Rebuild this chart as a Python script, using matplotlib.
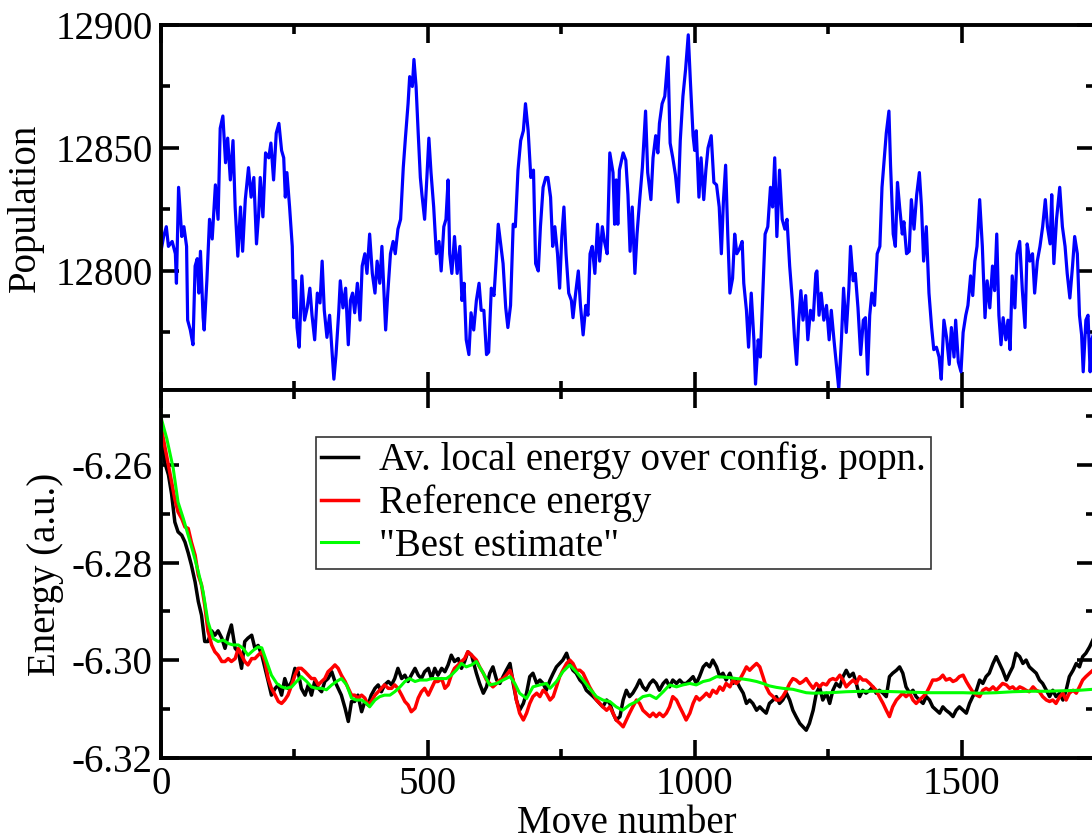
import numpy as np
import matplotlib
matplotlib.use('Agg')
import matplotlib.pyplot as plt
from matplotlib.ticker import MultipleLocator, FormatStrFormatter

plt.rcParams['font.family'] = ['Liberation Serif', 'DejaVu Serif']
plt.rcParams['axes.unicode_minus'] = False

# population trace (move number, walkers)
pop_move = [0, 5, 10, 14, 21, 27, 29, 33, 39, 43, 48, 50, 55, 60, 64, 68, 71, 74, 79, 81, 86, 91, 96, 102, 107,
            111, 116, 121, 125, 130, 135, 139, 144, 149, 153, 158, 164, 169, 174, 179, 183, 186, 191, 196, 202,
            206, 211, 216, 221, 226, 230, 233, 236, 241, 246, 249, 252, 255, 259, 264, 269, 274, 279, 283, 288,
            293, 298, 302, 306, 311, 316, 319, 324, 328, 333, 336, 341, 346, 351, 355, 359, 363, 368, 373, 377,
            382, 386, 391, 396, 401, 405, 410, 414, 421, 425, 430, 435, 439, 444, 449, 454, 458, 463, 466, 471,
            474, 478, 482, 486, 489, 494, 498, 502, 506, 511, 516, 521, 525, 530, 534, 538, 541, 545, 550, 555,
            560, 564, 568, 572, 577, 581, 586, 591, 596, 600, 605, 610, 614, 619, 624, 628, 632, 636, 641, 646,
            650, 655, 660, 664, 669, 674, 679, 683, 688, 693, 698, 702, 707, 711, 716, 721, 725, 730, 734, 738,
            743, 747, 751, 755, 759, 764, 769, 772, 777, 782, 786, 791, 796, 800, 804, 808, 813, 818, 822, 827,
            831, 836, 841, 847, 850, 853, 856, 859, 866, 871, 875, 879, 883, 888, 892, 897, 902, 908, 912, 918,
            922, 927, 931, 934, 939, 944, 950, 954, 959, 964, 969, 973, 978, 983, 988, 992, 997, 1000, 1003, 1008,
            1012, 1017, 1021, 1025, 1031, 1036, 1041, 1046, 1050, 1054, 1058, 1062, 1066, 1071, 1075, 1079, 1084,
            1089, 1092, 1097, 1101, 1106, 1111, 1114, 1119, 1123, 1128, 1132, 1137, 1142, 1146, 1150, 1154, 1159,
            1164, 1169, 1173, 1178, 1183, 1187, 1191, 1195, 1199, 1203, 1208, 1212, 1217, 1222, 1227, 1229, 1233,
            1237, 1242, 1247, 1252, 1256, 1261, 1266, 1270, 1275, 1279, 1284, 1289, 1292, 1297, 1301, 1306, 1311,
            1316, 1320, 1324, 1328, 1332, 1337, 1342, 1347, 1351, 1356, 1359, 1364, 1367, 1372, 1376, 1380, 1384,
            1389, 1392, 1397, 1402, 1406, 1411, 1416, 1421, 1425, 1429, 1434, 1439, 1444, 1448, 1453, 1458, 1462,
            1467, 1472, 1477, 1481, 1486, 1489, 1494, 1499, 1503, 1508, 1512, 1517, 1521, 1525, 1529, 1534, 1539,
            1544, 1548, 1553, 1558, 1562, 1566, 1570, 1574, 1578, 1583, 1587, 1591, 1595, 1600, 1604, 1609, 1614,
            1619, 1623, 1628, 1633, 1637, 1642, 1647, 1652, 1657, 1661, 1666, 1669, 1673, 1678, 1684, 1689, 1694,
            1698, 1703, 1708, 1712, 1717, 1721, 1725, 1728, 1733, 1737, 1741, 1744, 1748]
population = [12808, 12814, 12818, 12810, 12812, 12807, 12795, 12834, 12814, 12818, 12810, 12780, 12776, 12770,
              12802, 12805, 12791, 12808, 12781, 12776, 12796, 12821, 12813, 12835, 12821, 12858, 12863, 12844,
              12854, 12837, 12853, 12826, 12806, 12826, 12808, 12829, 12842, 12830, 12838, 12811, 12823, 12838,
              12822, 12848, 12846, 12852, 12837, 12856, 12860, 12849, 12846, 12830, 12840, 12826, 12810, 12781,
              12796, 12777, 12769, 12798, 12780, 12785, 12793, 12782, 12772, 12791, 12787, 12804, 12784, 12773,
              12782, 12772, 12756, 12766, 12783, 12796, 12785, 12793, 12770, 12788, 12791, 12783, 12795, 12780,
              12802, 12807, 12799, 12815, 12799, 12791, 12804, 12795, 12810, 12776, 12791, 12807, 12812, 12807,
              12817, 12821, 12842, 12854, 12868, 12879, 12875, 12886, 12875, 12856, 12838, 12831, 12821, 12837,
              12854, 12840, 12826, 12807, 12812, 12800, 12818, 12821, 12837, 12807, 12799, 12814, 12799, 12810,
              12788, 12795, 12772, 12766, 12783, 12776, 12788, 12795, 12784, 12784, 12766, 12767, 12793, 12790,
              12804, 12819, 12812, 12803, 12785, 12777, 12786, 12819, 12818, 12841, 12853, 12857, 12868, 12857,
              12838, 12841, 12803, 12800, 12818, 12834, 12838, 12838, 12830, 12810, 12818, 12807, 12793, 12814,
              12826, 12807, 12791, 12788, 12781, 12791, 12800, 12786, 12774, 12786, 12782, 12807, 12810, 12799,
              12819, 12804, 12818, 12812, 12807, 12848, 12840, 12819, 12837, 12819, 12841, 12848, 12845, 12831,
              12808, 12826, 12799, 12815, 12829, 12842, 12865, 12840, 12829, 12846, 12855, 12848, 12860, 12868,
              12871, 12887, 12852, 12846, 12839, 12828, 12853, 12871, 12882, 12896, 12877, 12855, 12849, 12857,
              12830, 12846, 12829, 12841, 12850, 12855, 12836, 12835, 12826, 12807, 12829, 12843, 12815, 12791,
              12797, 12815, 12807, 12809, 12812, 12795, 12784, 12769, 12791, 12772, 12754, 12772, 12765, 12793,
              12815, 12818, 12834, 12826, 12846, 12814, 12841, 12821, 12817, 12821, 12802, 12788, 12773, 12762,
              12780, 12792, 12780, 12790, 12772, 12784, 12780, 12799, 12800, 12782, 12791, 12780, 12786, 12772,
              12784, 12772, 12761, 12752, 12772, 12793, 12775, 12793, 12810, 12796, 12799, 12785, 12766, 12780,
              12781, 12758, 12782, 12791, 12786, 12807, 12810, 12834, 12848, 12856, 12865, 12843, 12815, 12810,
              12836, 12826, 12815, 12820, 12807, 12808, 12829, 12817, 12831, 12840, 12826, 12804, 12818, 12791,
              12777, 12768, 12769, 12765, 12756, 12780, 12773, 12762, 12777, 12765, 12780, 12763, 12759, 12775,
              12782, 12786, 12798, 12790, 12804, 12810, 12829, 12810, 12781, 12796, 12785, 12802, 12792, 12815,
              12782, 12770, 12781, 12772, 12780, 12768, 12798, 12785, 12807, 12812, 12792, 12777, 12811, 12804,
              12807, 12791, 12804, 12810, 12818, 12829, 12818, 12811, 12831, 12803, 12821, 12834, 12818, 12810,
              12799, 12789, 12802, 12814, 12807, 12782, 12774, 12759, 12780, 12782, 12759, 12772, 12775]

# average local energy over the configuration population
local_move = [0, 7, 14, 20, 26, 32, 39, 45, 51, 57, 64, 70, 76, 82, 88, 95, 101, 107, 114, 120, 126, 132, 139,
              145, 151, 157, 163, 170, 176, 182, 189, 195, 201, 207, 214, 220, 226, 232, 238, 245, 251, 257, 263,
              270, 276, 282, 288, 295, 301, 307, 313, 320, 326, 332, 338, 345, 351, 357, 363, 369, 376, 382, 388,
              394, 401, 407, 413, 419, 426, 432, 438, 444, 451, 457, 463, 469, 476, 482, 488, 494, 501, 507, 513,
              519, 526, 532, 538, 544, 550, 557, 563, 569, 575, 582, 591, 597, 604, 610, 616, 622, 629, 635, 641,
              647, 654, 660, 666, 672, 679, 685, 691, 697, 704, 710, 716, 722, 729, 735, 741, 747, 753, 760, 766,
              772, 778, 785, 791, 797, 803, 810, 816, 822, 828, 835, 841, 847, 853, 860, 866, 872, 878, 884, 891,
              897, 903, 909, 916, 922, 928, 934, 941, 947, 953, 959, 966, 972, 978, 984, 991, 997, 1003, 1009,
              1016, 1022, 1028, 1034, 1041, 1047, 1053, 1059, 1066, 1072, 1078, 1084, 1091, 1097, 1103, 1109,
              1116, 1122, 1128, 1134, 1140, 1147, 1153, 1159, 1165, 1172, 1178, 1184, 1190, 1197, 1203, 1209,
              1215, 1222, 1228, 1234, 1240, 1247, 1253, 1259, 1265, 1272, 1278, 1284, 1290, 1297, 1303, 1309,
              1315, 1321, 1328, 1334, 1340, 1346, 1353, 1359, 1365, 1371, 1378, 1384, 1390, 1396, 1403, 1409,
              1415, 1421, 1428, 1434, 1440, 1446, 1453, 1459, 1465, 1471, 1478, 1484, 1490, 1496, 1503, 1509,
              1515, 1521, 1528, 1534, 1540, 1546, 1552, 1559, 1565, 1571, 1577, 1584, 1590, 1596, 1602, 1609,
              1615, 1621, 1627, 1634, 1640, 1646, 1652, 1659, 1665, 1671, 1677, 1684, 1690, 1696, 1702, 1709,
              1715, 1721, 1727, 1733, 1740, 1746]
local_energy = [-6.2520, -6.2594, -6.2620, -6.2660, -6.2717, -6.2737, -6.2744, -6.2758, -6.2780, -6.2805, -6.2840,
                -6.2880, -6.2908, -6.2962, -6.2962, -6.2940, -6.2949, -6.2940, -6.2955, -6.2976, -6.2949, -6.2928,
                -6.2976, -6.2983, -6.3017, -6.2962, -6.2955, -6.2949, -6.2976, -6.2970, -6.2990, -6.3017, -6.3044,
                -6.3072, -6.3058, -6.3051, -6.3072, -6.3038, -6.3058, -6.3044, -6.3017, -6.3024, -6.3058, -6.3072,
                -6.3051, -6.3072, -6.3044, -6.3058, -6.3065, -6.3044, -6.3038, -6.3024, -6.3044, -6.3058, -6.3072,
                -6.3099, -6.3126, -6.3085, -6.3085, -6.3072, -6.3106, -6.3085, -6.3092, -6.3072, -6.3058, -6.3051,
                -6.3065, -6.3051, -6.3044, -6.3051, -6.3038, -6.3017, -6.3038, -6.3031, -6.3044, -6.3031, -6.3017,
                -6.3031, -6.3038, -6.3024, -6.3017, -6.3038, -6.3017, -6.3031, -6.3017, -6.3024, -6.3010, -6.2990,
                -6.3003, -6.2997, -6.3017, -6.3003, -6.2983, -6.2990, -6.3027, -6.3048, -6.3068, -6.3055, -6.3027,
                -6.3014, -6.3041, -6.3048, -6.3034, -6.3021, -6.3007, -6.3048, -6.3082, -6.3103, -6.3089, -6.3068,
                -6.3034, -6.3027, -6.3048, -6.3041, -6.3048, -6.3062, -6.3041, -6.3027, -6.3014, -6.3007, -6.3000,
                -6.2986, -6.3007, -6.3021, -6.3027, -6.3041, -6.3048, -6.3062, -6.3068, -6.3075, -6.3082, -6.3089,
                -6.3096, -6.3082, -6.3089, -6.3109, -6.3123, -6.3116, -6.3082, -6.3062, -6.3075, -6.3068, -6.3055,
                -6.3041, -6.3055, -6.3062, -6.3048, -6.3041, -6.3048, -6.3062, -6.3048, -6.3041, -6.3055, -6.3041,
                -6.3048, -6.3041, -6.3048, -6.3048, -6.3041, -6.3034, -6.3048, -6.3034, -6.3014, -6.3007, -6.3014,
                -6.3000, -6.3014, -6.3034, -6.3027, -6.3041, -6.3027, -6.3048, -6.3041, -6.3055, -6.3068, -6.3089,
                -6.3082, -6.3089, -6.3103, -6.3096, -6.3103, -6.3109, -6.3089, -6.3082, -6.3075, -6.3089, -6.3082,
                -6.3068, -6.3082, -6.3103, -6.3116, -6.3130, -6.3137, -6.3144, -6.3130, -6.3103, -6.3068, -6.3055,
                -6.3082, -6.3068, -6.3089, -6.3062, -6.3048, -6.3055, -6.3034, -6.3021, -6.3034, -6.3027, -6.3048,
                -6.3075, -6.3062, -6.3068, -6.3062, -6.3055, -6.3068, -6.3062, -6.3068, -6.3075, -6.3034, -6.3027,
                -6.3021, -6.3014, -6.3027, -6.3055, -6.3068, -6.3062, -6.3075, -6.3082, -6.3089, -6.3075, -6.3082,
                -6.3096, -6.3103, -6.3109, -6.3096, -6.3103, -6.3109, -6.3116, -6.3103, -6.3096, -6.3103, -6.3109,
                -6.3089, -6.3075, -6.3062, -6.3041, -6.3048, -6.3034, -6.3027, -6.3007, -6.2993, -6.3007, -6.3021,
                -6.3041, -6.3027, -6.3014, -6.2986, -6.2993, -6.3007, -6.3000, -6.3014, -6.3021, -6.3027, -6.3041,
                -6.3048, -6.3062, -6.3075, -6.3062, -6.3075, -6.3068, -6.3082, -6.3062, -6.3034, -6.3021, -6.3007,
                -6.3014, -6.2993, -6.2986, -6.2973, -6.2959]

# reference energy
ref_move = [0, 7, 14, 20, 26, 32, 39, 45, 51, 57, 64, 70, 76, 82, 88, 95, 101, 107, 114, 120, 126, 132, 139, 145,
            151, 157, 163, 170, 176, 182, 189, 195, 201, 207, 214, 220, 226, 232, 238, 245, 251, 257, 263, 270,
            276, 282, 288, 295, 301, 307, 313, 320, 326, 332, 338, 345, 351, 357, 363, 369, 376, 382, 388, 394,
            401, 407, 413, 419, 426, 432, 438, 444, 451, 457, 463, 469, 476, 482, 488, 494, 501, 507, 513, 519,
            526, 532, 538, 544, 550, 557, 563, 569, 575, 582, 591, 597, 604, 610, 616, 622, 629, 635, 641, 647,
            654, 660, 666, 672, 679, 685, 691, 697, 704, 710, 716, 722, 729, 735, 741, 747, 753, 760, 766, 772,
            778, 785, 791, 797, 803, 810, 816, 822, 828, 835, 841, 847, 853, 860, 866, 872, 878, 884, 891, 897,
            903, 909, 916, 922, 928, 934, 941, 947, 953, 959, 966, 972, 978, 984, 991, 997, 1003, 1009, 1016,
            1022, 1028, 1034, 1041, 1047, 1053, 1059, 1066, 1072, 1078, 1084, 1091, 1097, 1103, 1109, 1116, 1122,
            1128, 1134, 1140, 1147, 1153, 1159, 1165, 1172, 1178, 1184, 1190, 1197, 1203, 1209, 1215, 1222, 1228,
            1234, 1240, 1247, 1253, 1259, 1265, 1272, 1278, 1284, 1290, 1297, 1303, 1309, 1315, 1321, 1328, 1334,
            1340, 1346, 1353, 1359, 1365, 1371, 1378, 1384, 1390, 1396, 1403, 1409, 1415, 1421, 1428, 1434, 1440,
            1446, 1453, 1459, 1465, 1471, 1478, 1484, 1490, 1496, 1503, 1509, 1515, 1521, 1528, 1534, 1540, 1546,
            1552, 1559, 1565, 1571, 1577, 1584, 1590, 1596, 1602, 1609, 1615, 1621, 1627, 1634, 1640, 1646, 1652,
            1659, 1665, 1671, 1677, 1684, 1690, 1696, 1702, 1709, 1715, 1721, 1727, 1733, 1740, 1746]
ref_energy = [-6.2520, -6.2560, -6.2600, -6.2635, -6.2670, -6.2696, -6.2710, -6.2727, -6.2730, -6.2758, -6.2785,
              -6.2826, -6.2846, -6.2887, -6.2940, -6.2969, -6.2983, -6.2990, -6.3003, -6.3003, -6.2997, -6.3003,
              -6.2997, -6.2976, -6.2990, -6.3003, -6.3010, -6.2997, -6.2997, -6.2990, -6.2983, -6.3003, -6.3038,
              -6.3058, -6.3072, -6.3085, -6.3089, -6.3082, -6.3072, -6.3051, -6.3031, -6.3017, -6.3017, -6.3024,
              -6.3031, -6.3038, -6.3038, -6.3051, -6.3044, -6.3038, -6.3024, -6.3017, -6.3010, -6.3017, -6.3031,
              -6.3044, -6.3058, -6.3072, -6.3072, -6.3078, -6.3072, -6.3078, -6.3092, -6.3085, -6.3072, -6.3065,
              -6.3058, -6.3051, -6.3058, -6.3058, -6.3051, -6.3058, -6.3072, -6.3085, -6.3092, -6.3106, -6.3099,
              -6.3078, -6.3065, -6.3058, -6.3072, -6.3058, -6.3044, -6.3044, -6.3038, -6.3058, -6.3051, -6.3031,
              -6.3017, -6.3010, -6.3003, -6.2997, -6.2983, -6.2990, -6.3000, -6.3014, -6.3027, -6.3041, -6.3048,
              -6.3055, -6.3048, -6.3041, -6.3038, -6.3031, -6.3021, -6.3041, -6.3082, -6.3109, -6.3123, -6.3109,
              -6.3089, -6.3075, -6.3068, -6.3075, -6.3062, -6.3068, -6.3082, -6.3075, -6.3055, -6.3034, -6.3021,
              -6.3007, -6.3000, -6.3007, -6.3021, -6.3021, -6.3027, -6.3041, -6.3055, -6.3068, -6.3082, -6.3089,
              -6.3096, -6.3103, -6.3096, -6.3109, -6.3123, -6.3130, -6.3137, -6.3123, -6.3109, -6.3096, -6.3082,
              -6.3089, -6.3103, -6.3109, -6.3116, -6.3109, -6.3116, -6.3109, -6.3116, -6.3109, -6.3096, -6.3075,
              -6.3082, -6.3096, -6.3109, -6.3123, -6.3109, -6.3089, -6.3075, -6.3082, -6.3075, -6.3068, -6.3075,
              -6.3062, -6.3068, -6.3055, -6.3062, -6.3048, -6.3055, -6.3041, -6.3048, -6.3041, -6.3027, -6.3014,
              -6.3021, -6.3014, -6.3007, -6.3014, -6.3034, -6.3055, -6.3068, -6.3075, -6.3082, -6.3082, -6.3075,
              -6.3062, -6.3048, -6.3038, -6.3041, -6.3048, -6.3044, -6.3038, -6.3048, -6.3058, -6.3048, -6.3055,
              -6.3048, -6.3051, -6.3041, -6.3038, -6.3041, -6.3031, -6.3041, -6.3055, -6.3048, -6.3041, -6.3048,
              -6.3034, -6.3041, -6.3041, -6.3048, -6.3055, -6.3062, -6.3075, -6.3089, -6.3103, -6.3116, -6.3096,
              -6.3082, -6.3075, -6.3068, -6.3075, -6.3068, -6.3082, -6.3089, -6.3082, -6.3075, -6.3068, -6.3055,
              -6.3041, -6.3041, -6.3038, -6.3031, -6.3041, -6.3038, -6.3044, -6.3041, -6.3034, -6.3031, -6.3044,
              -6.3055, -6.3065, -6.3072, -6.3075, -6.3062, -6.3058, -6.3062, -6.3055, -6.3062, -6.3055, -6.3048,
              -6.3051, -6.3058, -6.3055, -6.3062, -6.3055, -6.3058, -6.3062, -6.3065, -6.3055, -6.3062, -6.3065,
              -6.3075, -6.3082, -6.3085, -6.3082, -6.3089, -6.3075, -6.3068, -6.3082, -6.3068, -6.3062, -6.3068,
              -6.3055, -6.3041, -6.3034, -6.3027, -6.3021]

# "best estimate"
best_move = [0, 11, 23, 32, 42, 51, 60, 70, 79, 88, 98, 107, 117, 126, 135, 145, 154, 163, 173, 182, 189, 198,
             207, 217, 226, 235, 245, 254, 263, 273, 282, 291, 301, 310, 320, 329, 338, 348, 357, 366, 376, 385,
             391, 401, 410, 419, 429, 438, 448, 457, 466, 476, 485, 498, 507, 516, 526, 535, 544, 554, 563, 572,
             582, 591, 604, 616, 629, 641, 654, 663, 672, 685, 697, 710, 722, 729, 741, 753, 766, 778, 791, 803,
             816, 828, 841, 853, 865, 878, 891, 903, 916, 928, 941, 953, 966, 978, 991, 1003, 1016, 1028, 1041,
             1053, 1066, 1078, 1091, 1103, 1116, 1128, 1140, 1153, 1165, 1184, 1209, 1222, 1253, 1284, 1315,
             1346, 1378, 1409, 1440, 1471, 1503, 1534, 1565, 1596, 1627, 1659, 1690, 1721, 1746]
best_energy = [-6.2502, -6.2546, -6.2607, -6.2676, -6.2710, -6.2744, -6.2778, -6.2819, -6.2860, -6.2921, -6.2956,
               -6.2962, -6.2959, -6.2966, -6.2969, -6.2969, -6.2976, -6.2990, -6.2980, -6.2973, -6.2975, -6.3003,
               -6.3031, -6.3048, -6.3055, -6.3058, -6.3055, -6.3044, -6.3034, -6.3044, -6.3055, -6.3058, -6.3058,
               -6.3061, -6.3051, -6.3044, -6.3038, -6.3051, -6.3078, -6.3082, -6.3082, -6.3089, -6.3096, -6.3082,
               -6.3075, -6.3072, -6.3072, -6.3065, -6.3055, -6.3044, -6.3038, -6.3044, -6.3041, -6.3041, -6.3038,
               -6.3038, -6.3038, -6.3038, -6.3031, -6.3020, -6.3007, -6.3014, -6.3010, -6.3003, -6.3027, -6.3051,
               -6.3048, -6.3041, -6.3034, -6.3048, -6.3068, -6.3079, -6.3055, -6.3051, -6.3048, -6.3058, -6.3044,
               -6.3024, -6.3010, -6.3024, -6.3041, -6.3058, -6.3075, -6.3082, -6.3085, -6.3096, -6.3103, -6.3092,
               -6.3085, -6.3075, -6.3072, -6.3079, -6.3065, -6.3051, -6.3055, -6.3051, -6.3048, -6.3051, -6.3044,
               -6.3041, -6.3034, -6.3035, -6.3036, -6.3038, -6.3039, -6.3041, -6.3044, -6.3048, -6.3053, -6.3056,
               -6.3058, -6.3060, -6.3067, -6.3068, -6.3067, -6.3065, -6.3064, -6.3064, -6.3065, -6.3066, -6.3067,
               -6.3067, -6.3067, -6.3068, -6.3067, -6.3065, -6.3064, -6.3064, -6.3063, -6.3062, -6.3060]

fs = 28
fig = plt.figure(figsize=(10.92, 8.33), dpi=100)
ax_top = fig.add_axes([0.1474, 0.5318, 0.8553, 0.4382])
ax_bot = fig.add_axes([0.1474, 0.0900, 0.8553, 0.4418])

ax_top.plot(pop_move, population, color='#0000ff', lw=2.3)
ax_bot.plot(local_move, local_energy, color='black', lw=2.5, label='Av. local energy over config. popn.')
ax_bot.plot(ref_move, ref_energy, color='#ff0000', lw=2.5, label='Reference energy')
ax_bot.plot(best_move, best_energy, color='#00ff00', lw=2.2, label='"Best estimate"')

ax_top.set_ylim(12751.6, 12900)
ax_bot.set_ylim(-6.3201, -6.2446)

for ax in (ax_top, ax_bot):
    ax.set_xlim(0, 1750)
    ax.xaxis.set_major_locator(MultipleLocator(500))
    ax.xaxis.set_minor_locator(MultipleLocator(250))
    ax.tick_params(which='both', direction='in', top=True, right=True, width=2.6, labelsize=fs, pad=6)
    ax.tick_params(which='major', length=13)
    ax.tick_params(which='minor', length=6.5)
    for sp in ax.spines.values():
        sp.set_linewidth(2.8)

ax_top.yaxis.set_major_locator(MultipleLocator(50))
ax_top.yaxis.set_minor_locator(MultipleLocator(25))
ax_top.tick_params(labelbottom=False)
ax_bot.yaxis.set_major_locator(MultipleLocator(0.02))
ax_bot.yaxis.set_minor_locator(MultipleLocator(0.01))
ax_bot.yaxis.set_major_formatter(FormatStrFormatter('%.2f'))

ax_top.set_ylabel('Population', fontsize=fs)
ax_top.yaxis.set_label_coords(-0.125, 0.5)
ax_bot.set_ylabel('Energy (a.u.)', fontsize=fs)
ax_bot.yaxis.set_label_coords(-0.104, 0.5)
# label sits right on the bottom edge, as in the original
ax_bot.set_xlabel('Move number', fontsize=fs)
ax_bot.xaxis.set_label_coords(0.499, -0.128)

leg = ax_bot.legend(loc='upper left', bbox_to_anchor=(0.166, 0.872), fontsize=28, frameon=True,
                    fancybox=False, handlelength=0.95, handletextpad=0.55, borderpad=0.12, labelspacing=0.14,
                    borderaxespad=0)
leg.get_frame().set_edgecolor('black')
leg.get_frame().set_linewidth(1.2)

fig.savefig('out.png', dpi=100)
